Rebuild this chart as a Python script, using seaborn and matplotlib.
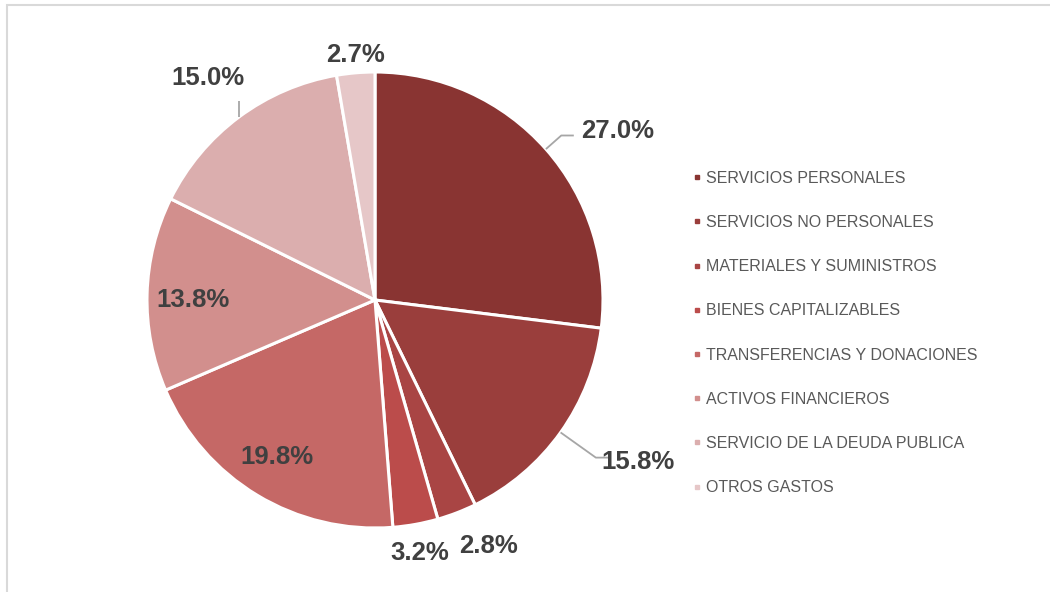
import numpy as np
import seaborn as sns
import matplotlib
matplotlib.use('Agg')
import matplotlib.pyplot as plt
from matplotlib.lines import Line2D
from matplotlib.patches import Rectangle

# data
categories = ['SERVICIOS PERSONALES', 'SERVICIOS NO PERSONALES', 'MATERIALES Y SUMINISTROS',
              'BIENES CAPITALIZABLES', 'TRANSFERENCIAS Y DONACIONES', 'ACTIVOS FINANCIEROS',
              'SERVICIO DE LA DEUDA PUBLICA', 'OTROS GASTOS']
shares = [27.0, 15.8, 2.8, 3.2, 19.8, 13.8, 15.0, 2.7]
pct_labels = ['27.0%', '15.8%', '2.8%', '3.2%', '19.8%', '13.8%', '15.0%', '2.7%']

# styling
colors = ['#893432', '#9A3E3C', '#A94544', '#BB4C4B', '#C56866', '#D28F8D', '#DBAEAE', '#E6C7C8']
label_dist = [1.295, 1.355, 1.19, 1.125, 0.81, 0.80, 1.218, 1.078]
label_shift = [6.6, -3.9, -3.7, 0.2, 0.9, -1.5, -0.3, 0.2]   # degrees from wedge middle
leaders = {0: (1.09, 0.055), 1: (1.19, 0.055), 6: (1.09, 0.0)}  # knee radius, tail length

sns.set_theme(style='white')
plt.rcParams['font.family'] = ['Liberation Sans', 'DejaVu Sans']

W, H = 1050, 592
cx, cy, R = 375, 300, 228  # pie centre / radius in px
fig = plt.figure(figsize=(W / 100, H / 100), dpi=100)
ax = fig.add_axes([0, 0, 1, 1])

wedges, _ = ax.pie(shares, colors=colors, startangle=90, counterclock=False,
                   wedgeprops=dict(edgecolor='white', linewidth=2.2))
ax.set_xlim(-cx / R, (W - cx) / R)
ax.set_ylim(-(H - cy) / R, cy / R)
ax.set_aspect('equal', adjustable='datalim')
ax.axis('off')

total = sum(shares)
start = 0.0
for i, v in enumerate(shares):
    span = v / total * 360
    mid = start + span / 2  # clockwise from 12 o'clock
    a = np.radians(mid + label_shift[i])
    tx, ty = label_dist[i] * np.sin(a), label_dist[i] * np.cos(a)
    ax.text(tx, ty, pct_labels[i], ha='center', va='center', fontsize=18.5,
            fontweight='bold', color='#404040')
    if i in leaders:
        kr, tail = leaders[i]
        m = np.radians(mid)
        ex, ey = np.sin(m), np.cos(m)
        kx, ky = kr * np.sin(m), kr * np.cos(m)
        if tail == 0:
            kx = ex
        ax.plot([ex, kx, kx + tail], [ey, ky, ky], color='#A6A6A6', lw=1.3,
                solid_capstyle='butt')
    start += span

handles = [Line2D([], [], marker='s', ls='', color=c, markersize=3.2) for c in colors]
leg = fig.legend(handles, categories, loc='center left', bbox_to_anchor=(0.652, 0.4375),
                 frameon=False, fontsize=11.5, labelspacing=1.83, handlelength=0.5,
                 handletextpad=0.35, borderpad=0)
for t in leg.get_texts():
    t.set_color('#595959')

# chart area border (cut at the right and bottom)
fig.patches.append(Rectangle((7 / W, -0.05), 1.2, 1 - 5 / H + 0.05, transform=fig.transFigure,
                             fill=False, edgecolor='#D9D9D9', lw=1.5))

fig.savefig('out.png', dpi=100)
